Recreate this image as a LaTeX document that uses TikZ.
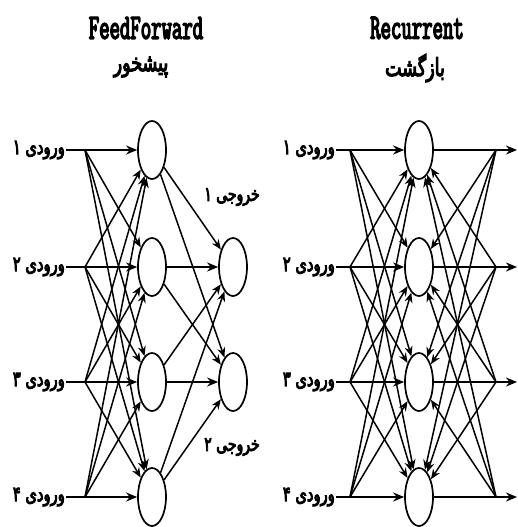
\documentclass[tikz,border=0pt]{standalone}
\usepackage{fontspec}
\usetikzlibrary{arrows.meta,shapes.geometric}
\TeXXeTstate=1
\newfontfamily\farsi[Script=Arabic,FakeBold=4,FakeStretch=0.7]{DejaVu Sans}
\newfontfamily\netfont[FakeStretch=0.55,FakeBold=3.5]{lmmono10-regular.otf}

\begin{document}
\begin{tikzpicture}[x=1pt, y=-1pt,
    neuron/.style={ellipse, draw, line width=1.7pt, minimum width=28pt,
      minimum height=58pt, inner sep=0pt},
    inlabel/.style={font=\farsi\fontsize{21}{22}\selectfont, inner sep=1pt, anchor=east},
    outlabel/.style={font=\farsi\fontsize{20}{22}\selectfont, inner sep=0pt},
    nettitle/.style={font=\netfont\fontsize{36}{40}\selectfont, inner sep=0pt},
    fatitle/.style={font=\farsi\fontsize{25}{27}\selectfont, inner sep=0pt},
    mainarr/.style={-{Stealth[length=11pt,width=9pt]}, line width=2.6pt},
    linkarr/.style={-{Stealth[length=10pt,width=8pt]}, line width=1.5pt},
  ]
  \useasboundingbox (0,0) rectangle (518,527);

  % titles
  \node[nettitle] (fftitle) at (146,28) {FeedForward};
  \node[fatitle] (fffa) at (141,67) {\beginR پیشخور\endR};
  \node[nettitle] (rctitle) at (417,28) {Recurrent};
  \node[fatitle] (rcfa) at (415,68) {\beginR بازگشت\endR};

  % feedforward network
  \foreach \i/\y/\dg in {1/150/۱, 2/267/۲, 3/382/۳, 4/497/۴} {
    \node[neuron] (h\i) at (152,\y) {};
    \node[inlabel] (in\i) at (66,\y) {\beginR ورودی \dg\endR};
    \coordinate (f\i) at (85,\y);
  }
  \node[neuron] (o1) at (233,267) {};
  \node[neuron] (o2) at (233,382) {};
  \node[outlabel] (out1) at (232,197) {\beginR خروجی ۱\endR};
  \node[outlabel] (out2) at (232,447) {\beginR خروجی ۲\endR};

  \foreach \i in {1,...,4} {
    \draw[mainarr] (in\i.east) -- (h\i);
    \foreach \j in {1,...,4} {
      \ifnum\i=\j\else \draw[linkarr] (f\i) -- (h\j); \fi
    }
  }
  \draw[mainarr] (h2) -- (o1);
  \draw[mainarr] (h3) -- (o2);
  \foreach \i/\j in {1/1, 1/2, 2/2, 3/1, 4/1, 4/2}
    \draw[linkarr] (h\i) -- (o\j);

  % recurrent network
  \foreach \i/\y/\dg in {1/150/۱, 2/267/۲, 3/382/۳, 4/497/۴} {
    \node[neuron] (rh\i) at (419,\y) {};
    \node[inlabel] (rin\i) at (336,\y) {\beginR ورودی \dg\endR};
    \coordinate (rf\i) at (350,\y);
    \coordinate (rb\i) at (496,\y);
    \coordinate (rout\i) at (517,\y);
  }

  \foreach \i in {1,...,4} {
    \draw[mainarr] (rin\i.east) -- (rh\i);
    \draw[mainarr] (rh\i) -- (rout\i);
    \foreach \j in {1,...,4} {
      \ifnum\i=\j\else
        \draw[linkarr] (rf\i) -- (rh\j);
        \draw[linkarr] (rb\i) -- (rh\j);
      \fi
    }
  }
\end{tikzpicture}
\end{document}
